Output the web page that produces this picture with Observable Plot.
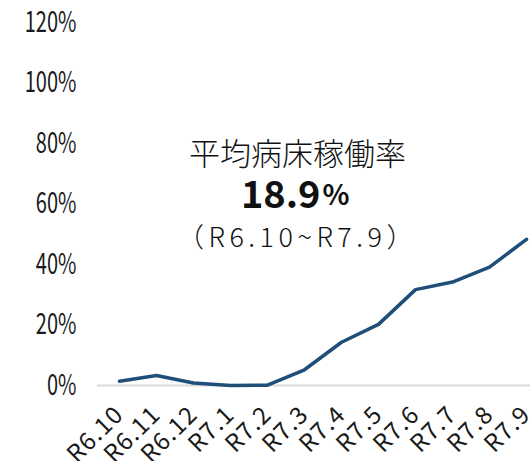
<!DOCTYPE html>
<html><head><meta charset="utf-8">
<script src="https://cdn.jsdelivr.net/npm/d3@7"></script>
<script src="https://cdn.jsdelivr.net/npm/@observablehq/plot@0.6"></script>
<style>body{margin:0;background:#fff}</style>
</head><body><div id="chart"></div>
<script>
const months = ["R6.10","R6.11","R6.12","R7.1","R7.2","R7.3","R7.4","R7.5","R7.6","R7.7","R7.8","R7.9"];
const rates = [1.4,3.3,0.8,0,0.1,5.2,14.3,20.2,31.7,34.2,39.1,48.3];
const yTicks = [0,20,40,60,80,100,120];
const titleText = "平均病床稼働率";
const avgValue = "18.9";
const avgUnit = "%";
const periodText = "（R6.10~R7.9）";

const data = months.map((m, i) => ({month: m, rate: rates[i]}));
const jp = "'Noto Sans CJK JP','Noto Sans',sans-serif";

const chart = Plot.plot({
  width: 531, height: 461,
  marginLeft: 117, marginRight: 4, marginTop: 22, marginBottom: 76,
  style: {fontFamily: jp, fontSize: "22px", color: "#1a1a1a", background: "#fff"},
  x: {type: "point", domain: months, padding: 0},
  y: {domain: [0, 120]},
  marks: [
    Plot.ruleY([0], {stroke: "#d9d9d9", strokeWidth: 2, insetLeft: -20, insetRight: -3}),
    Plot.axisY({ticks: yTicks, tickFormat: d => d + "%", tickSize: 0, tickPadding: 41, label: null, fontSize: 29}),
    Plot.axisX({tickRotate: -45, tickSize: 0, tickPadding: 25, label: null, fontSize: 24}),
    Plot.line(data, {x: "month", y: "rate", stroke: "#1f4e79", strokeWidth: 3.5}),
    Plot.text([titleText], {text: d => d, frameAnchor: "top", dx: -25, dy: 120, fontSize: 31, fontWeight: 300, fontFamily: jp, fill: "#111"}),
    Plot.text([avgValue], {text: d => d, frameAnchor: "top", textAnchor: "end", dx: -2, dy: 159, fontSize: 38, fontWeight: "bold", fontFamily: jp, fill: "#111"}),
    Plot.text([avgUnit], {text: d => d, frameAnchor: "top", textAnchor: "start", dx: 0, dy: 163, fontSize: 28, fontWeight: "bold", fontFamily: jp, fill: "#111"}),
    Plot.text([periodText], {text: d => d, frameAnchor: "top", dx: -25, dy: 205, fontSize: 27, fontWeight: 300, fontFamily: jp, fill: "#111"})
  ]
});
// condensed look for the y tick labels
chart.querySelectorAll('[aria-label="y-axis tick label"] text').forEach(t => {
  t.setAttribute("transform", (t.getAttribute("transform") || "") + " scale(0.69,1)");
});
chart.querySelectorAll('[aria-label="x-axis tick label"] text').forEach(t => {
  t.style.letterSpacing = "1.2px";
});
chart.querySelectorAll("text").forEach(t => {
  if (t.textContent === periodText) t.style.letterSpacing = "4.5px";
});
document.getElementById("chart").appendChild(chart);
</script>
</body></html>
